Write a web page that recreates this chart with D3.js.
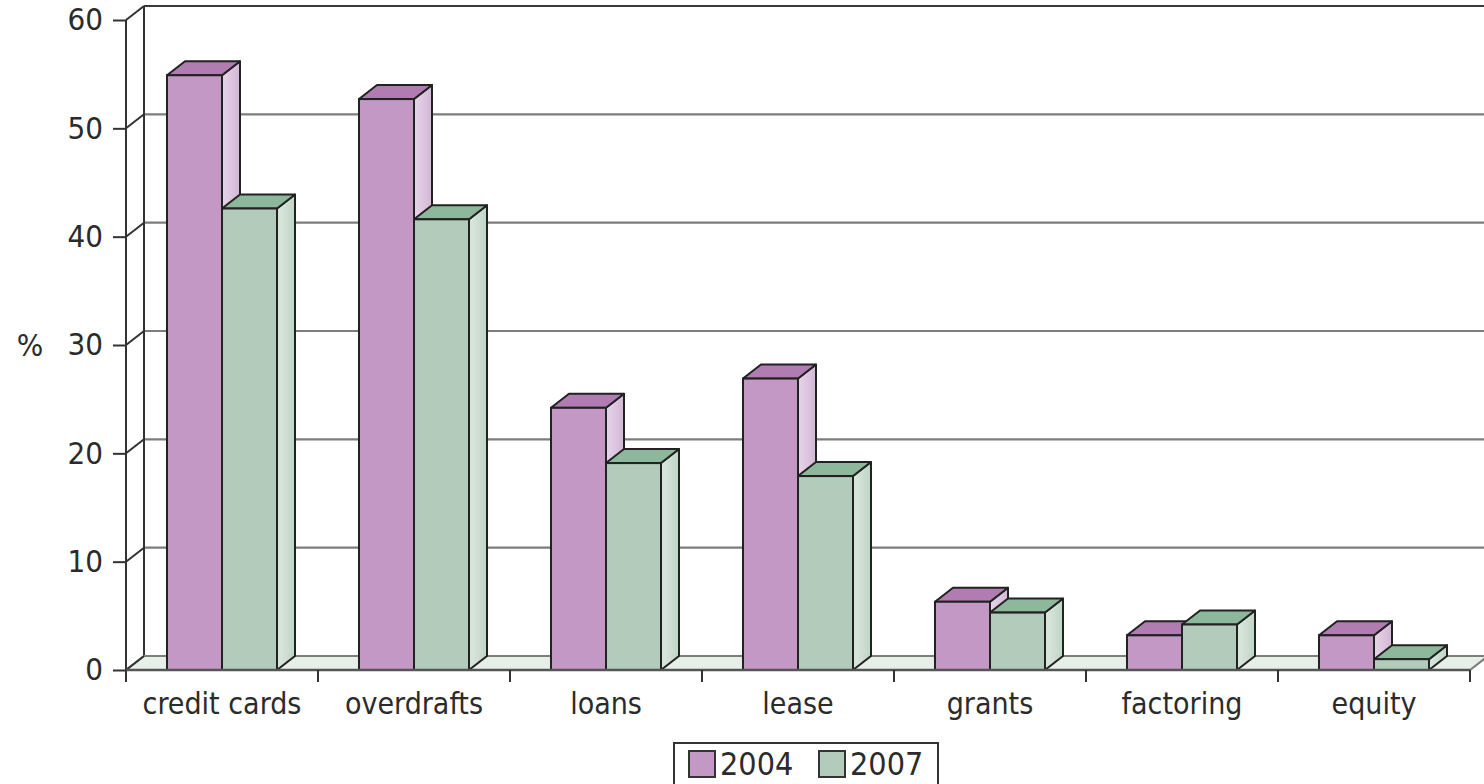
<!DOCTYPE html>
<html>
<head>
<meta charset="utf-8">
<script src="https://cdn.jsdelivr.net/npm/d3@7"></script>
<style>
  html, body { margin: 0; padding: 0; background: #fff; }
  svg { display: block; }
  text { font-family: "Liberation Sans Narrow", "Arial Narrow", "DejaVu Sans Condensed", sans-serif; fill: #2b2b2b; }
</style>
</head>
<body>
<div id="chart"></div>
<script>
// data
const categories = ["credit cards", "overdrafts", "loans", "lease", "grants", "factoring", "equity"];
const years = ["2004", "2007"];
const values2004 = [54.9, 52.7, 24.2, 26.9, 6.3, 3.2, 3.2];
const values2007 = [42.6, 41.6, 19.1, 17.9, 5.3, 4.2, 1.0];
const yTicks = [0, 10, 20, 30, 40, 50, 60];

const width = 1484, height = 784;
const depthX = 18, depthY = 14; // 3d offset

const colors = {
    "2004": { front: "#c398c5", top: "#b07cb2", sideA: "#e6d6e8", sideB: "#d3b6d6" },
    "2007": { front: "#b2cbbb", top: "#8db89c", sideA: "#dce9e0", sideB: "#bfd5c6" }
};

const svg = d3.select("#chart")
    .append("svg")
    .attr("width", width)
    .attr("height", height);

const x0 = d3.scaleBand()
    .domain(categories)
    .range([126, 1470]);

const x1 = d3.scaleBand()
    .domain(years)
    .range([x0.bandwidth() * 0.2135, x0.bandwidth() * 0.7865]);

const y = d3.scaleLinear()
    .domain([0, 60])
    .range([670, 20]);

// gradients for the side faces
const defs = svg.append("defs");
years.forEach(yr => {
    const g = defs.append("linearGradient")
        .attr("id", `side-${yr}`)
        .attr("x1", "0%").attr("y1", "0%")
        .attr("x2", "100%").attr("y2", "0%");
    g.append("stop").attr("offset", "0%").attr("stop-color", colors[yr].sideA);
    g.append("stop").attr("offset", "100%").attr("stop-color", colors[yr].sideB);
});

// back wall grid lines
svg.append("g")
    .selectAll("line")
    .data(yTicks.filter(d => d > 0))
    .enter()
    .append("line")
    .attr("x1", 126 + depthX)
    .attr("x2", width + 10)
    .attr("y1", d => y(d) - depthY)
    .attr("y2", d => y(d) - depthY)
    .attr("stroke", d => d === 60 ? "#3a3a3a" : "#7d7d7d")
    .attr("stroke-width", 2.2);

// back wall left edge
svg.append("line")
    .attr("x1", 126 + depthX).attr("x2", 126 + depthX)
    .attr("y1", y(60) - depthY).attr("y2", y(0) - depthY)
    .attr("stroke", "#333").attr("stroke-width", 2);

// floor
const fx0 = x0.range()[0], fx1 = x0.range()[1], fy = y(0);
svg.append("polygon")
    .attr("points", [
        [fx0, fy], [fx1, fy], [fx1 + depthX, fy - depthY], [fx0 + depthX, fy - depthY]
    ].map(p => p.join(",")).join(" "))
    .attr("fill", "#e7efe9")
    .attr("stroke", "#7d7d7d")
    .attr("stroke-width", 2);

// front axis line + diagonal connectors
svg.append("line")
    .attr("x1", 126).attr("x2", 126)
    .attr("y1", y(60)).attr("y2", y(0))
    .attr("stroke", "#333").attr("stroke-width", 2);

svg.append("g")
    .selectAll("line")
    .data(yTicks)
    .enter()
    .append("line")
    .attr("x1", 126).attr("y1", d => y(d))
    .attr("x2", 126 + depthX).attr("y2", d => y(d) - depthY)
    .attr("stroke", "#333").attr("stroke-width", 2);

// y axis ticks + labels
const yAxis = svg.append("g")
    .attr("transform", "translate(126,0)")
    .call(d3.axisLeft(y).tickValues(yTicks).tickSize(13).tickPadding(10));
yAxis.select(".domain").remove();
yAxis.selectAll(".tick line").attr("stroke", "#333").attr("stroke-width", 2);
yAxis.selectAll(".tick text")
    .style("font-size", "31px")
    .attr("fill", "#2b2b2b");

svg.append("text")
    .attr("x", 30)
    .attr("y", y(30))
    .attr("dy", "0.35em")
    .attr("text-anchor", "middle")
    .style("font-size", "31px")
    .text("%");

// bars
const rows = [];
categories.forEach((c, i) => {
    rows.push({ cat: c, year: "2004", value: values2004[i] });
    rows.push({ cat: c, year: "2007", value: values2007[i] });
});

const bars = svg.append("g")
    .selectAll("g")
    .data(rows)
    .enter()
    .append("g");

bars.each(function (d) {
    const g = d3.select(this);
    const bx = x0(d.cat) + x1(d.year);
    const bw = x1.bandwidth();
    const top = y(d.value), base = y(0);
    const pts = arr => arr.map(p => p.join(",")).join(" ");

    g.append("polygon")
        .attr("points", pts([[bx + bw, top], [bx + bw + depthX, top - depthY], [bx + bw + depthX, base - depthY], [bx + bw, base]]))
        .attr("fill", `url(#side-${d.year})`)
        .attr("stroke", "#222").attr("stroke-width", 2).attr("stroke-linejoin", "round");

    g.append("polygon")
        .attr("points", pts([[bx, top], [bx + depthX, top - depthY], [bx + bw + depthX, top - depthY], [bx + bw, top]]))
        .attr("fill", colors[d.year].top)
        .attr("stroke", "#222").attr("stroke-width", 2).attr("stroke-linejoin", "round");

    g.append("rect")
        .attr("x", bx)
        .attr("y", top)
        .attr("width", bw)
        .attr("height", base - top)
        .attr("fill", colors[d.year].front)
        .attr("stroke", "#222").attr("stroke-width", 2);
});

// x axis: front edge, ticks at band edges, labels
svg.append("line")
    .attr("x1", fx0).attr("x2", fx1)
    .attr("y1", fy).attr("y2", fy)
    .attr("stroke", "#555").attr("stroke-width", 2.4);

const edges = categories.map(c => x0(c)).concat([fx1]);
svg.append("g")
    .selectAll("line")
    .data(edges)
    .enter()
    .append("line")
    .attr("x1", d => d).attr("x2", d => d)
    .attr("y1", fy).attr("y2", fy + 12)
    .attr("stroke", "#333").attr("stroke-width", 2);

svg.append("g")
    .selectAll("text")
    .data(categories)
    .enter()
    .append("text")
    .attr("x", d => x0(d) + x0.bandwidth() / 2)
    .attr("y", 714)
    .attr("text-anchor", "middle")
    .style("font-size", "30px")
    .text(d => d);

// legend
const legend = svg.append("g").attr("transform", "translate(674,743)");
legend.append("rect")
    .attr("x", 0).attr("y", 0)
    .attr("width", 264).attr("height", 50)
    .attr("fill", "#fff")
    .attr("stroke", "#333").attr("stroke-width", 2);

years.forEach((yr, i) => {
    const lx = 15 + i * 130;
    legend.append("rect")
        .attr("x", lx).attr("y", 8)
        .attr("width", 26).attr("height", 26)
        .attr("fill", colors[yr].front)
        .attr("stroke", "#333").attr("stroke-width", 2);
    legend.append("text")
        .attr("x", lx + 31)
        .attr("y", 32)
        .style("font-size", "32px")
        .text(yr);
});
</script>
</body>
</html>
